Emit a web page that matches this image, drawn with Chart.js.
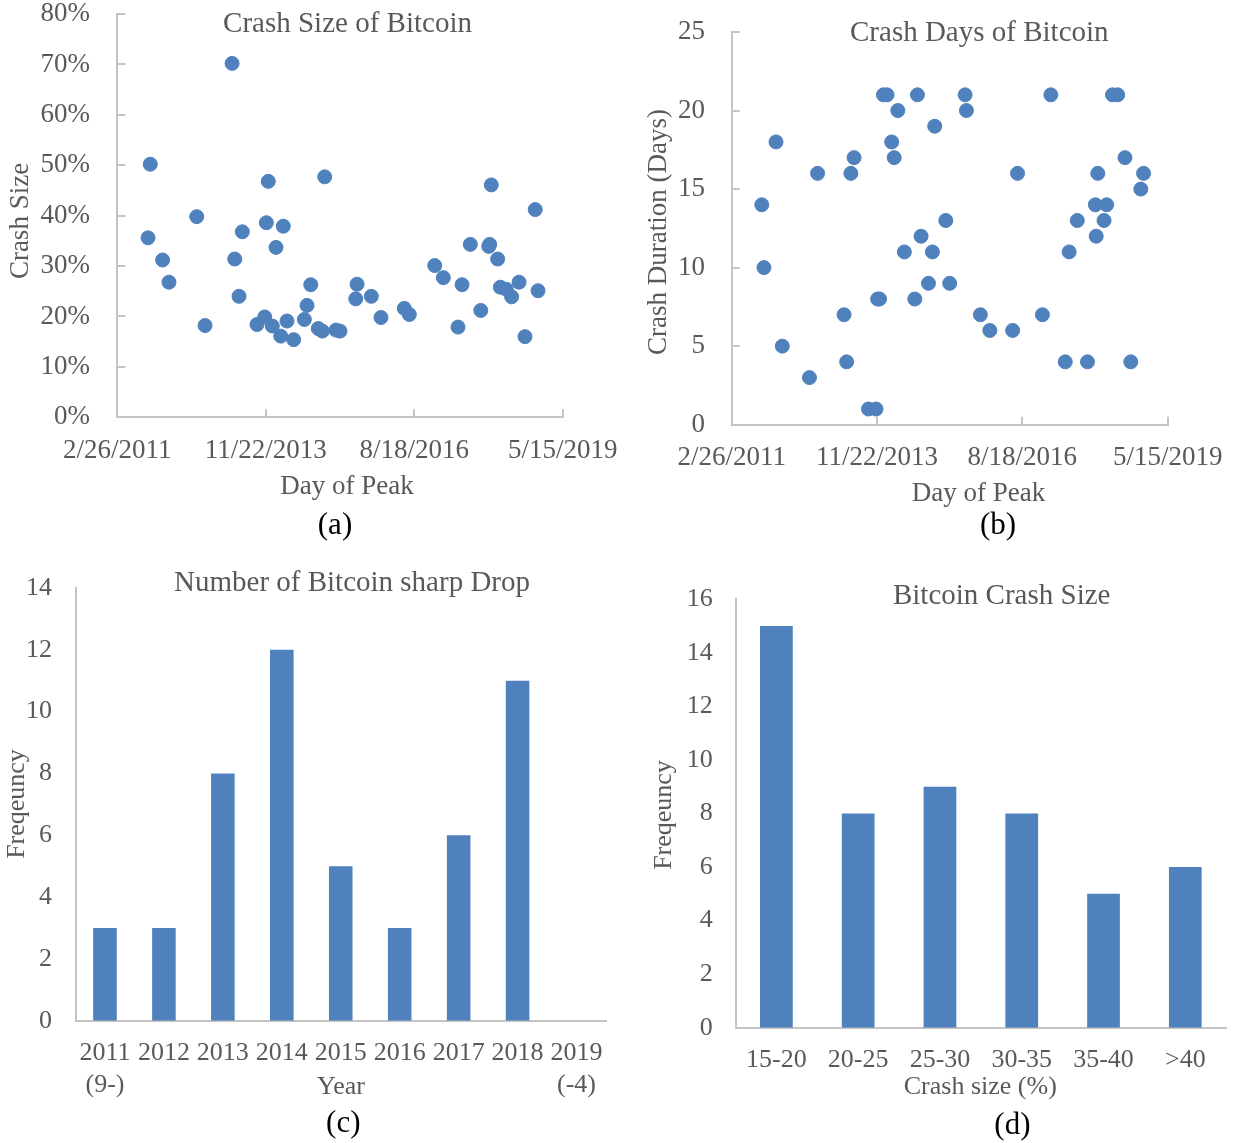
<!DOCTYPE html>
<html>
<head>
<meta charset="utf-8">
<title>Bitcoin crashes</title>
<script src="https://cdn.jsdelivr.net/npm/chart.js@4.4.1/dist/chart.umd.min.js"></script>
<style>
  html, body { margin: 0; padding: 0; background: #fff; }
  #wrap { position: relative; width: 1236px; height: 1143px; }
  #wrap canvas { position: absolute; left: 0; top: 0; }
</style>
</head>
<body>
<div id="wrap">
  <canvas id="chartA" width="1236" height="1143"></canvas>
  <canvas id="chartB" width="1236" height="1143"></canvas>
  <canvas id="chartC" width="1236" height="1143"></canvas>
  <canvas id="chartD" width="1236" height="1143"></canvas>
</div>
<script>
const peakDay = [40807, 40822, 40905, 40948, 41135, 41191, 41373, 41391, 41420, 41442,
  41541, 41593, 41604, 41617, 41644, 41669, 41701, 41718, 41743, 41788,
  41860, 41878, 41903, 41954, 41981, 41997, 42073, 42100, 42206, 42215,
  42311, 42376, 42533, 42567, 42738, 42796, 42895, 42922, 42978, 43048,
  43102, 43108, 43119, 43162, 43180, 43220, 43256, 43306, 43346, 43415, 43434];
// crash size in %
const crashSize = [35.6, 50.2, 31.2, 26.8, 39.8, 18.2, 70.2, 31.4, 24.0, 36.8,
  18.4, 19.9, 38.6, 46.8, 18.1, 33.7, 16.1, 37.9, 19.1, 15.4,
  19.4, 22.2, 26.3, 17.6, 17.1, 47.7, 17.3, 17.1, 23.5, 26.4,
  24.0, 19.8, 21.6, 20.4, 30.1, 27.7, 17.9, 26.3, 34.3, 21.2,
  33.9, 34.3, 46.1, 31.4, 25.8, 25.4, 23.9, 26.8, 16.0, 41.2, 25.1];
// crash duration in days
const crashDays = [14, 10, 18, 5, 3, 16, 7, 4, 16, 17,
  1, 1, 8, 8, 21, 21, 18, 17, 20, 11,
  8, 21, 12, 9, 11, 19, 13, 9, 21, 20,
  7, 6, 6, 16, 7, 21, 4, 11, 13, 4,
  14, 12, 16, 13, 14, 21, 21, 17, 4, 15, 16];
const dayTicks = [40600, 41600, 42600, 43600];

// panel c
const yearLabels = [['2011', '(9-)'], '2012', '2013', '2014', '2015', '2016', '2017', '2018', ['2019', '(-4)']];
const yearCounts = [3, 3, 8, 12, 5, 3, 6, 11, 0];

// panel d
const sizeBins = ['15-20', '20-25', '25-30', '30-35', '35-40', '>40'];
const binCounts = [15, 8, 9, 8, 5, 6];

const PAGE_W = 1236, PAGE_H = 1143;
const SERIF = '"Liberation Serif", "Times New Roman", serif';
const GREY_TEXT = '#595959';
const AXIS = '#c4c4c4';
const BLUE = '#4f81bd';

Chart.defaults.font.family = SERIF;
Chart.defaults.color = GREY_TEXT;

// every canvas covers the page, so plot rectangles are in page pixels.
// the y axis box runs from the page's left edge, the x axis box down to the bottom,
// so tick labels are never clipped by their scale box
function padFor(p) {
  return { left: 0, right: PAGE_W - p.r, top: p.t, bottom: 0 };
}
function fixBox(plot) {
  return function (scale) {
    if (scale.isHorizontal()) scale.height = PAGE_H - plot.b; else scale.width = plot.l;
    scale.paddingLeft = scale.paddingRight = scale.paddingTop = scale.paddingBottom = 0;
  };
}
function excelDate(v) {
  const d = new Date(Date.UTC(1899, 11, 30) + v * 86400000);
  return (d.getUTCMonth() + 1) + '/' + d.getUTCDate() + '/' + d.getUTCFullYear();
}

// titles, axis titles and panel letters
const textPlugin = {
  id: 'panelText',
  afterDraw(chart, args, opts) {
    const ctx = chart.ctx;
    (opts.items || []).forEach(it => {
      ctx.save();
      ctx.font = it.size + 'px ' + SERIF;
      ctx.fillStyle = it.color || GREY_TEXT;
      ctx.textAlign = 'center';
      ctx.textBaseline = 'middle';
      ctx.translate(it.x, it.y);
      if (it.rotate) ctx.rotate(-Math.PI / 2);
      ctx.fillText(it.text, 0, 0);
      ctx.restore();
    });
  }
};

const insideTicks = { display: true, drawOnChartArea: false, drawTicks: true, tickLength: -8, color: AXIS, lineWidth: 2 };
const noGrid = { display: false, drawTicks: false };
const axisLine = { display: true, color: AXIS, width: 2 };

function scatter(id, plot, yVals, yMax, yStep, yFmt, labelPadY, labelPadX, items) {
  return new Chart(document.getElementById(id), {
    type: 'scatter',
    data: {
      datasets: [{
        data: peakDay.map((d, i) => ({ x: d, y: yVals[i] })),
        backgroundColor: BLUE,
        borderColor: BLUE,
        borderWidth: 1,
        pointRadius: 7,
        pointHoverRadius: 7
      }]
    },
    options: {
      responsive: false,
      animation: false,
      layout: { padding: padFor(plot) },
      plugins: { legend: { display: false }, tooltip: { enabled: false }, panelText: { items: items } },
      scales: {
        x: {
          type: 'linear', min: dayTicks[0], max: dayTicks[dayTicks.length - 1],
          afterBuildTicks: s => { s.ticks = dayTicks.map(v => ({ value: v })); },
          afterFit: fixBox(plot),
          grid: insideTicks, border: axisLine,
          ticks: { font: { size: 27 }, padding: labelPadX, maxRotation: 0, autoSkip: false, callback: v => excelDate(v) }
        },
        y: {
          min: 0, max: yMax,
          afterFit: fixBox(plot),
          grid: insideTicks, border: axisLine,
          ticks: { font: { size: 27 }, padding: labelPadY, stepSize: yStep, callback: yFmt }
        }
      }
    },
    plugins: [textPlugin]
  });
}

function bars(id, plot, labels, values, yMax, labelPadY, labelPadX, lineHeight, items) {
  return new Chart(document.getElementById(id), {
    type: 'bar',
    data: {
      labels: labels,
      datasets: [{ data: values, backgroundColor: BLUE, borderWidth: 0, barPercentage: 0.4, categoryPercentage: 1.0 }]
    },
    options: {
      responsive: false,
      animation: false,
      layout: { padding: padFor(plot) },
      plugins: { legend: { display: false }, tooltip: { enabled: false }, panelText: { items: items } },
      scales: {
        x: {
          afterFit: fixBox(plot),
          grid: noGrid, border: axisLine,
          ticks: { font: { size: 26, lineHeight: lineHeight }, padding: labelPadX, maxRotation: 0, autoSkip: false }
        },
        y: {
          min: 0, max: yMax,
          afterFit: fixBox(plot),
          grid: noGrid, border: axisLine,
          ticks: { font: { size: 26 }, padding: labelPadY, stepSize: 2 }
        }
      }
    },
    plugins: [textPlugin]
  });
}

scatter('chartA', { l: 117.3, r: 562.7, t: 14, b: 417.3 }, crashSize, 80, 10, v => v + '%', 35.3, 25.2, [
  { text: 'Crash Size of Bitcoin', x: 347.5, y: 24.5, size: 29 },
  { text: 'Crash Size', x: 21, y: 221, size: 27, rotate: true },
  { text: 'Day of Peak', x: 347, y: 486.7, size: 27 },
  { text: '(a)', x: 335, y: 526, size: 31, color: '#000' }
]);

scatter('chartB', { l: 731.7, r: 1167.7, t: 32, b: 424.7 }, crashDays, 25, 5, v => v, 34.7, 25.2, [
  { text: 'Crash Days of Bitcoin', x: 979.3, y: 33.5, size: 29 },
  { text: 'Crash Duration (Days)', x: 659, y: 232, size: 27, rotate: true },
  { text: 'Day of Peak', x: 978.5, y: 493.5, size: 27 },
  { text: '(b)', x: 998, y: 526, size: 31, color: '#000' }
]);

bars('chartC', { l: 75.5, r: 606, t: 588, b: 1020.7 }, yearLabels, yearCounts, 14, 23.5, 15.85, 1.242, [
  { text: 'Number of Bitcoin sharp Drop', x: 352, y: 583.5, size: 29 },
  { text: 'Freqeuncy', x: 17, y: 804, size: 26, rotate: true },
  { text: 'Year', x: 341, y: 1086.7, size: 26 },
  { text: '(c)', x: 343.3, y: 1124, size: 31, color: '#000' }
]);

bars('chartD', { l: 735.5, r: 1226.2, t: 599.3, b: 1027.7 }, sizeBins, binCounts, 16, 22.8, 16.7, 1.2, [
  { text: 'Bitcoin Crash Size', x: 1001.7, y: 596.5, size: 29 },
  { text: 'Freqeuncy', x: 664, y: 815, size: 26, rotate: true },
  { text: 'Crash size (%)', x: 980.3, y: 1086.7, size: 26 },
  { text: '(d)', x: 1012.4, y: 1126, size: 31, color: '#000' }
]);
</script>
</body>
</html>
